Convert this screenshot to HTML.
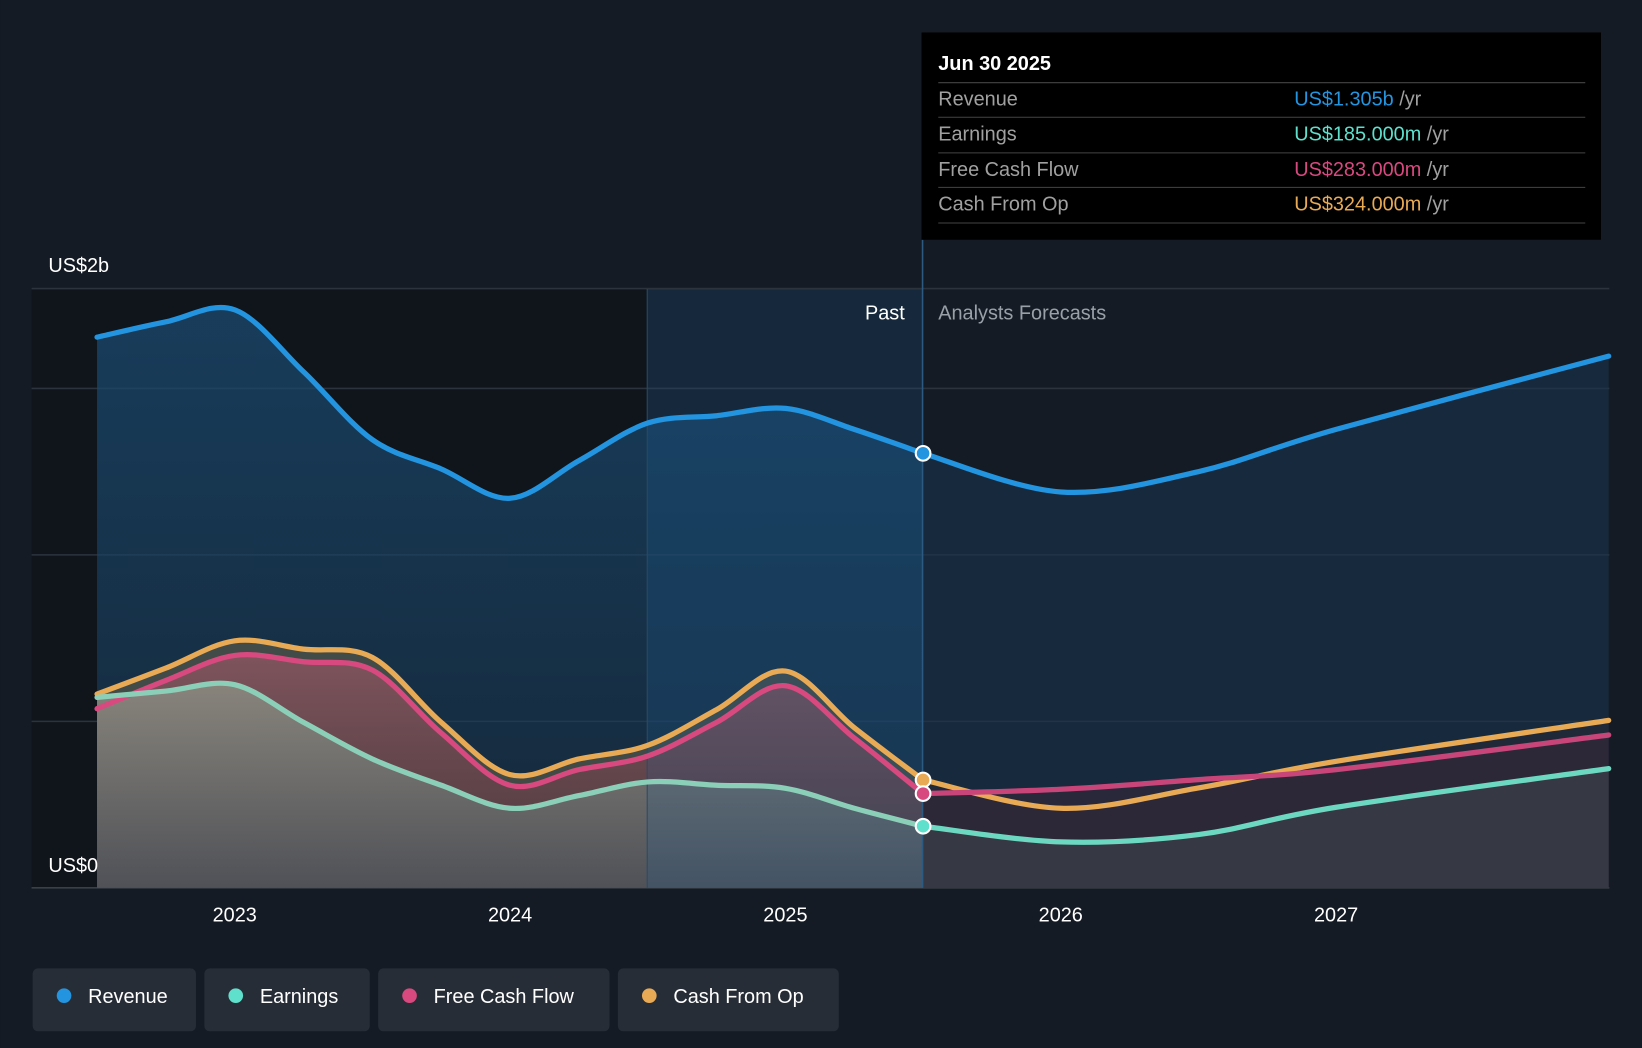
<!DOCTYPE html>
<html><head><meta charset="utf-8"><style>
html,body{margin:0;padding:0;background:#151b24;}
svg{display:block;font-family:"Liberation Sans",sans-serif;}
</style></head><body>
<svg id="chart" width="1642" height="1048" viewBox="0 0 1568 1001">
<defs>
<linearGradient id="revG" x1="0" y1="0" x2="0" y2="1"><stop offset="0" stop-color="#1a4a70" stop-opacity="0.75"/><stop offset="1" stop-color="#1a3a56" stop-opacity="0.55"/></linearGradient>
<linearGradient id="earnG" x1="0" y1="0" x2="0" y2="1"><stop offset="0" stop-color="#8a8a80" stop-opacity="0.9"/><stop offset="1" stop-color="#50545a" stop-opacity="0.9"/></linearGradient>
<linearGradient id="fcfG" x1="0" y1="0" x2="0" y2="1"><stop offset="0" stop-color="#a85a6a" stop-opacity="0.6"/><stop offset="1" stop-color="#602838" stop-opacity="0.4"/></linearGradient>
</defs>
<rect x="0" y="0" width="1568" height="1001" fill="#151b24"/>
<rect x="30" y="276" width="588" height="572" fill="#10141b"/>
<g id="grid"></g>
<g id="areas"></g>
<rect x="618" y="276" width="263" height="572" fill="#1a5a90" opacity="0.22"/>
<line x1="618" y1="276" x2="618" y2="848" stroke="#2a4a66" stroke-width="1"/>
<line x1="881" y1="229" x2="881" y2="848" stroke="#2d5a80" stroke-width="1.5"/>
<g id="lines"></g>
<g id="xaxis"></g>
<text x="46" y="260" fill="#ffffff" font-size="19">US$2b</text>
<text x="46" y="833" fill="#ffffff" font-size="19">US$0</text>
<text x="864" y="305" fill="#ffffff" font-size="19" text-anchor="end">Past</text>
<text x="896" y="305" fill="#9aa0a8" font-size="19">Analysts Forecasts</text>
<g>
<rect x="880" y="31" width="649" height="198" fill="#000000"/>
<text x="896" y="67" fill="#fff" font-size="19" font-weight="bold">Jun 30 2025</text>
<line x1="896" y1="79" x2="1514" y2="79" stroke="#444"/>
<text x="896" y="101" fill="#a0a0a0" font-size="19">Revenue</text>
<text x="1236" y="101" font-size="19"><tspan fill="#2394e0">US$1.305b</tspan><tspan fill="#a0a0a0"> /yr</tspan></text>
<line x1="896" y1="112" x2="1514" y2="112" stroke="#444"/>
<text x="896" y="134" fill="#a0a0a0" font-size="19">Earnings</text>
<text x="1236" y="134" font-size="19"><tspan fill="#5ee0cc">US$185.000m</tspan><tspan fill="#a0a0a0"> /yr</tspan></text>
<line x1="896" y1="146" x2="1514" y2="146" stroke="#444"/>
<text x="896" y="168" fill="#a0a0a0" font-size="19">Free Cash Flow</text>
<text x="1236" y="168" font-size="19"><tspan fill="#d8497f">US$283.000m</tspan><tspan fill="#a0a0a0"> /yr</tspan></text>
<line x1="896" y1="179" x2="1514" y2="179" stroke="#444"/>
<text x="896" y="201" fill="#a0a0a0" font-size="19">Cash From Op</text>
<text x="1236" y="201" font-size="19"><tspan fill="#e8aa55">US$324.000m</tspan><tspan fill="#a0a0a0"> /yr</tspan></text>
<line x1="896" y1="213" x2="1514" y2="213" stroke="#444"/>
</g>
<g id="legend"></g>
</svg>
<script>
const pastT = [2022.5,2022.75,2023,2023.25,2023.5,2023.75,2024,2024.25,2024.5,2024.75,2025,2025.25,2025.5];
const revPast = [1.654,1.70,1.736,1.55,1.346,1.258,1.17,1.283,1.396,1.418,1.44,1.377,1.305];
const earnPast = [0.572,0.591,0.61,0.497,0.387,0.308,0.239,0.277,0.318,0.308,0.299,0.239,0.185];
const fcfPast = [0.538,0.623,0.698,0.679,0.654,0.465,0.308,0.355,0.396,0.497,0.607,0.45,0.283];
const cfoPast = [0.582,0.66,0.742,0.717,0.692,0.497,0.34,0.387,0.428,0.535,0.651,0.481,0.324];
const foreT = [2025.5,2026,2026.5,2027,2027.99];
const revFore = [1.305,1.189,1.25,1.377,1.597];
const earnFore = [0.185,0.138,0.16,0.242,0.358];
const fcfFore = [0.283,0.296,0.325,0.355,0.459];
const cfoFore = [0.324,0.239,0.30,0.38,0.503];
const yearTicks = [2023,2024,2025,2026,2027];
const gridVals = [0,0.5,1,1.5,1.8];
const legendNames = ["Revenue","Earnings","Free Cash Flow","Cash From Op"];
const legendColors = ["#2394e0","#5ee0cc","#d8497f","#e8aa55"];

const NS="http://www.w3.org/2000/svg";
const xS=t=>224+(t-2023)*263;
const yS=v=>848-v*318;
function mk(tag,attrs,parent){const e=document.createElementNS(NS,tag);for(const k in attrs)e.setAttribute(k,attrs[k]);parent.appendChild(e);return e;}
function path(ts,vs){const p=ts.map((t,i)=>[xS(t),yS(vs[i])]);let d="M"+p[0][0]+","+p[0][1];
 for(let i=0;i<p.length-1;i++){const p0=p[i-1]||p[i],p1=p[i],p2=p[i+1],p3=p[i+2]||p2;
  const c1=[p1[0]+(p2[0]-p0[0])/6,p1[1]+(p2[1]-p0[1])/6],c2=[p2[0]-(p3[0]-p1[0])/6,p2[1]-(p3[1]-p1[1])/6];
  d+=" C"+c1[0]+","+c1[1]+" "+c2[0]+","+c2[1]+" "+p2[0]+","+p2[1];}return d;}
function area(ts,vs){return path(ts,vs)+" L"+xS(ts[ts.length-1])+",848 L"+xS(ts[0])+",848 Z";}

const grid=document.getElementById('grid');
gridVals.forEach(v=>{const l=mk('line',{x1:30,x2:1537,y1:yS(v),y2:yS(v),stroke:v===0?'#3a4048':'#2c333c','stroke-width':1.5},grid);

});

const areas=document.getElementById('areas');
function addArea(d,fill,op,name){const e=mk('path',{d:d,fill:fill,opacity:op},areas);

}
addArea(area(pastT,revPast),'url(#revG)',1,'revenue-area-past');
addArea(area(foreT,revFore),'#1a3550',0.55,'revenue-area-forecast');
addArea(area(pastT,cfoPast),'#4a5048',0.85,'cfo-area-past');
addArea(area(pastT,fcfPast),'url(#fcfG)',1,'fcf-area-past');
addArea(area(pastT,earnPast),'url(#earnG)',1,'earnings-area-past');
addArea(area(foreT,cfoFore),'#2a2a34',0.5,'cfo-area-forecast');
addArea(area(foreT,fcfFore),'#3a2838',0.5,'fcf-area-forecast');
addArea(area(foreT,earnFore),'#3a4048',0.7,'earnings-area-forecast');

const lines=document.getElementById('lines');
const series=[["revenue",revPast,revFore,"#2394e0","#2394e0"],["cfo",cfoPast,cfoFore,"#e8aa55","#e8aa55"],["fcf",fcfPast,fcfFore,"#d8497f","#c8457a"],["earnings",earnPast,earnFore,"#8ccfb8","#6dd8c2"]];
series.forEach(s=>{
 const a=mk('path',{d:path(pastT,s[1]),fill:'none',stroke:s[3],'stroke-width':5,'stroke-linecap':'round'},lines);
 
 
 const b=mk('path',{d:path(foreT,s[2]),fill:'none',stroke:s[4],'stroke-width':5,'stroke-linecap':'round'},lines);
 
 
});
[[revPast,"#2394e0","revenue"],[cfoPast,"#e8aa55","cfo"],[fcfPast,"#d8497f","fcf"],[earnPast,"#5ee0cc","earnings"]].forEach(s=>{
 const c=mk('circle',{cx:xS(2025.5),cy:yS(s[0][s[0].length-1]),r:7,fill:s[1],stroke:'#fff','stroke-width':2},lines);
 
 
});

const xa=document.getElementById('xaxis');
yearTicks.forEach(y=>{const t=mk('text',{x:xS(y),y:880,fill:'#fff','font-size':19,'text-anchor':'middle'},xa);t.textContent=y;

});

const lg=document.getElementById('legend');
let lx=31;const widths=[156,158,221,211];
legendNames.forEach((n,i)=>{const g=mk('g',{},lg);


mk('rect',{x:lx,y:925,width:widths[i],height:60,rx:5,fill:'#272d36'},g);
mk('circle',{cx:lx+30,cy:951,r:7,fill:legendColors[i]},g);
const t=mk('text',{x:lx+53,y:958,fill:'#fff','font-size':19},g);t.textContent=n;
lx+=widths[i]+8;});
</script>
</body></html>
